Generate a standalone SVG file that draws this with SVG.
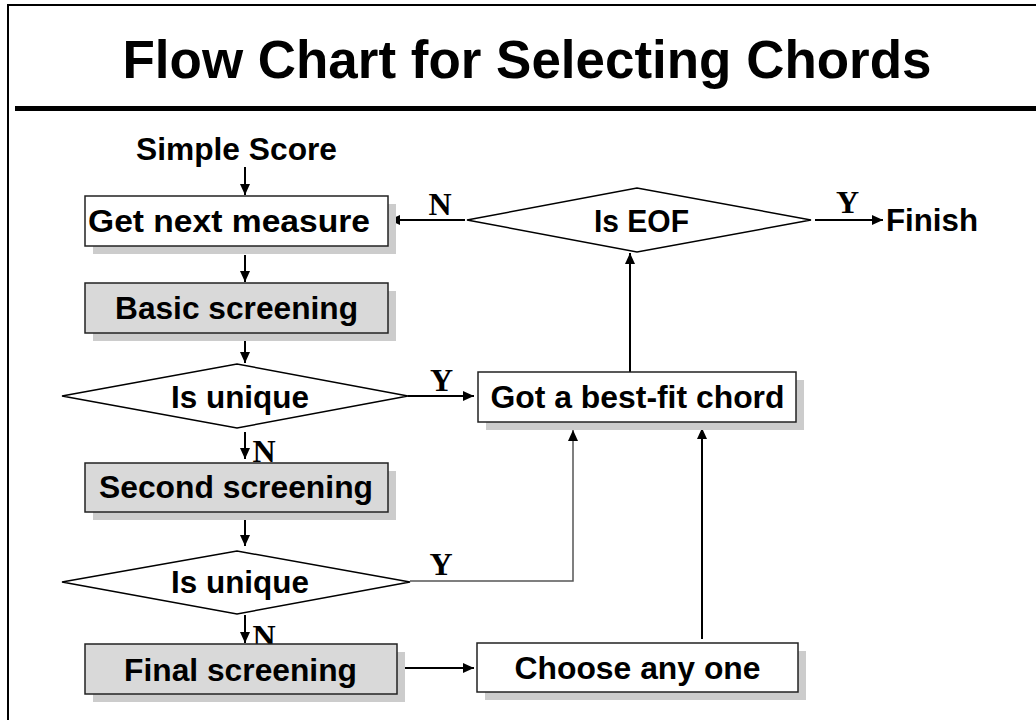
<svg xmlns="http://www.w3.org/2000/svg" width="1036" height="720" viewBox="0 0 1036 720">
<style>
.t{font-family:"Liberation Sans",Arial,sans-serif;font-weight:bold;font-size:32px;fill:#000}
.lbl{font-family:"Liberation Serif","Times New Roman",serif;font-weight:bold;font-size:32px;fill:#000}
.box{fill:#fff;stroke:#222;stroke-width:1.5}
.gbox{fill:#d9d9d9;stroke:#222;stroke-width:1.5}
.sh{fill:#cccccc;stroke:none}
.dia{fill:#fff;stroke:#000;stroke-width:1.5}
.c{fill:none;stroke:#000;stroke-width:2}
.c2{fill:none;stroke:#555;stroke-width:1.5}
</style>
<defs>
<marker id="ah" markerUnits="userSpaceOnUse" markerWidth="11" markerHeight="10" refX="11" refY="5" orient="auto">
<path d="M0,0 L11,5 L0,10 z" fill="#000"/>
</marker>
</defs>
<rect x="0" y="0" width="1036" height="720" fill="#fff"/>
<path d="M8,730 L8,5 L1040,5" fill="none" stroke="#000" stroke-width="2"/>
<line x1="15" y1="108.5" x2="1036" y2="108.5" stroke="#000" stroke-width="5"/>
<text x="527" y="78" text-anchor="middle" style="font-family:'Liberation Sans',Arial,sans-serif;font-weight:bold;font-size:53px" textLength="809" lengthAdjust="spacingAndGlyphs">Flow Chart for Selecting Chords</text>

<g id="connectors">
<line class="c" x1="245" y1="167" x2="245" y2="195" marker-end="url(#ah)"/>
<line class="c" x1="245" y1="255" x2="245" y2="282" marker-end="url(#ah)"/>
<line class="c" x1="245" y1="335" x2="245" y2="363" marker-end="url(#ah)"/>
<line class="c" x1="408" y1="396" x2="474" y2="396" marker-end="url(#ah)"/>
<line class="c" x1="630" y1="372" x2="630" y2="253" marker-end="url(#ah)"/>
<line class="c" x1="465" y1="220" x2="389" y2="220" marker-end="url(#ah)"/>
<line class="c" x1="815" y1="220" x2="883" y2="220" marker-end="url(#ah)"/>
<line class="c" x1="245" y1="432" x2="245" y2="459" marker-end="url(#ah)"/>
<line class="c" x1="245" y1="519" x2="245" y2="546" marker-end="url(#ah)"/>
<polyline class="c2" points="410,581 573,581 573,430" marker-end="url(#ah)"/>
<line class="c" x1="245" y1="615" x2="245" y2="643" marker-end="url(#ah)"/>
<line class="c" x1="399" y1="668" x2="474" y2="668" marker-end="url(#ah)"/>
<line class="c" x1="702" y1="639" x2="702" y2="428" marker-end="url(#ah)"/>
<text class="lbl" x="440" y="215" text-anchor="middle">N</text>
<text class="lbl" x="847.5" y="213" text-anchor="middle">Y</text>
<text class="lbl" x="441.5" y="391" text-anchor="middle">Y</text>
<text class="lbl" x="264" y="462" text-anchor="middle">N</text>
<text class="lbl" x="441" y="575" text-anchor="middle">Y</text>
<text class="lbl" x="264" y="647" text-anchor="middle">N</text>
</g>

<g id="start">
<text class="t" x="236.5" y="160" text-anchor="middle" textLength="201" lengthAdjust="spacingAndGlyphs">Simple Score</text>
</g>
<g id="get-next-measure">
<rect class="sh" x="93" y="204" width="303" height="50"/>
<rect class="box" x="85" y="196" width="303" height="50"/>
<text class="t" x="229" y="232" text-anchor="middle" textLength="282" lengthAdjust="spacingAndGlyphs">Get next measure</text>
</g>
<g id="basic-screening">
<rect class="sh" x="93" y="291" width="303" height="50"/>
<rect class="gbox" x="85" y="283" width="303" height="50"/>
<text class="t" x="236.5" y="319" text-anchor="middle" textLength="243" lengthAdjust="spacingAndGlyphs">Basic screening</text>
</g>
<g id="is-unique-1">
<polygon class="dia" points="62,396 237,364 408,396 237,428"/>
<text class="t" x="240" y="408" text-anchor="middle" textLength="138" lengthAdjust="spacingAndGlyphs">Is unique</text>
</g>
<g id="got-best-fit">
<rect class="sh" x="486" y="380" width="318" height="50"/>
<rect class="box" x="478" y="372" width="318" height="50"/>
<text class="t" x="637.5" y="408" text-anchor="middle" textLength="294" lengthAdjust="spacingAndGlyphs">Got a best-fit chord</text>
</g>
<g id="is-eof">
<polygon class="dia" points="467,220 637,188 811,220 637,252"/>
<text class="t" x="641.5" y="232" text-anchor="middle" textLength="95" lengthAdjust="spacingAndGlyphs">Is EOF</text>
</g>
<g id="finish">
<text class="t" x="886" y="231" textLength="92" lengthAdjust="spacingAndGlyphs">Finish</text>
</g>
<g id="second-screening">
<rect class="sh" x="93" y="471" width="303" height="49"/>
<rect class="gbox" x="85" y="463" width="303" height="49"/>
<text class="t" x="236" y="498" text-anchor="middle" textLength="274" lengthAdjust="spacingAndGlyphs">Second screening</text>
</g>
<g id="is-unique-2">
<polygon class="dia" points="62,582 237,551 410,582 237,614"/>
<text class="t" x="240" y="593" text-anchor="middle" textLength="138" lengthAdjust="spacingAndGlyphs">Is unique</text>
</g>
<g id="final-screening">
<rect class="sh" x="93" y="652" width="312" height="50"/>
<rect class="gbox" x="85" y="644" width="312" height="50"/>
<text class="t" x="240.5" y="681" text-anchor="middle" textLength="233" lengthAdjust="spacingAndGlyphs">Final screening</text>
</g>
<g id="choose-any-one">
<rect class="sh" x="485" y="651" width="321" height="49"/>
<rect class="box" x="477" y="643" width="321" height="49"/>
<text class="t" x="637.5" y="679" text-anchor="middle" textLength="246" lengthAdjust="spacingAndGlyphs">Choose any one</text>
</g>
</svg>
